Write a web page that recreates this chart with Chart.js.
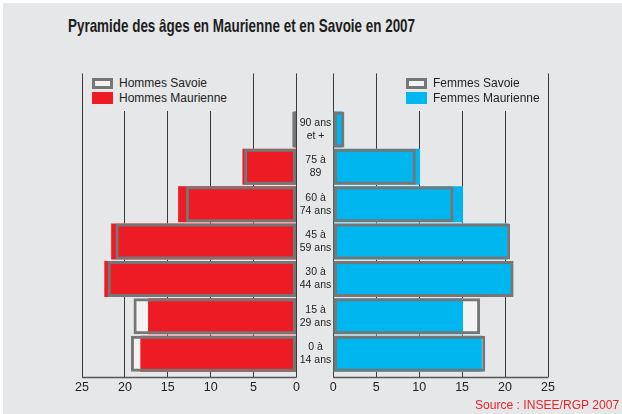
<!DOCTYPE html>
<html>
<head>
    <title>Pyramide des âges</title>
    <script src="https://cdn.jsdelivr.net/npm/chart.js"></script>
    <style>
        body { margin: 0; background: #fff; }
        #page { position: absolute; left: 3px; top: 3px; width: 619px; height: 411px; background: #e6e7e8; }
        .abs { position: absolute; }
        #title { left: 68px; top: 15px; font: bold 19px "Liberation Sans", Arial, sans-serif; color: #1e1e1e; white-space: nowrap; transform-origin: 0 0; }
        #source { left: 475px; top: 397px; font: 13px "Liberation Sans", Arial, sans-serif; color: #e8242b; white-space: nowrap; transform-origin: 0 0; }
        .legend { background: #e6e7e8; font: 12px "Liberation Sans", Arial, sans-serif; color: #222; }
        .legend div { position: relative; height: 15px; line-height: 15px; padding-left: 31px; white-space: nowrap; }
        .legend span { position: absolute; left: 4px; top: 2px; width: 21px; height: 11px; box-sizing: border-box; }
    </style>
</head>
<body>
<div id="page"></div>
<div id="title" class="abs">Pyramide des âges en Maurienne et en Savoie en 2007</div>
<canvas id="hommes" class="abs" style="left:0;top:0" width="300" height="414"></canvas>
<canvas id="femmes" class="abs" style="left:296px;top:0" width="326" height="414"></canvas>
<div id="legH" class="abs legend" style="left:88px;top:73px;width:152px;height:38px;padding-top:3px;box-sizing:border-box"></div>
<div id="legF" class="abs legend" style="left:402px;top:73px;width:142px;height:38px;padding-top:3px;box-sizing:border-box"></div>
<div id="source" class="abs">Source : INSEE/RGP 2007</div>
<script>
// tranches d'âge, du haut vers le bas
const ages = [['90 ans', 'et +'], ['75 à', '89'], ['60 à', '74 ans'], ['45 à', '59 ans'], ['30 à', '44 ans'], ['15 à', '29 ans'], ['0 à', '14 ans']];
// valeurs
const hommesMaurienne = [0.3, 6.3, 13.8, 21.6, 22.4, 17.3, 18.2];
const hommesSavoie    = [0.5, 6.1, 12.9, 21.1, 22.0, 19.0, 19.3];
const femmesMaurienne = [1.1, 10.1, 15.1, 20.3, 20.8, 15.1, 17.3];
const femmesSavoie    = [1.3, 9.6, 14.0, 20.6, 21.0, 17.1, 17.7];
const xTicks = [0, 5, 10, 15, 20, 25];

const ROUGE = '#ed1c24', BLEU = '#00b6ef', GRIS = '#767676', BLANC = '#f3f3f3';

// police étroite simulée
function squeeze(id, w) {
    const el = document.getElementById(id);
    el.style.transform = 'scaleX(' + (w / el.offsetWidth) + ')';
}
squeeze('title', 347);
squeeze('source', 144);

// une case vide en haut pour la légende
const labels = [''].concat(ages);
const pad = arr => [null].concat(arr);

function legend(id, names, color) {
    document.getElementById(id).innerHTML =
        '<div><span style="background:' + BLANC + ';border:3px solid ' + GRIS + '"></span>' + names[0] + '</div>' +
        '<div><span style="background:' + color + ';top:1px;height:12px"></span>' + names[1] + '</div>';
}
legend('legH', ['Hommes Savoie', 'Hommes Maurienne'], ROUGE);
legend('legF', ['Femmes Savoie', 'Femmes Maurienne'], BLEU);

const axisLine = {
    id: 'axisLine',
    afterDatasetsDraw(chart) {
        const a = chart.chartArea, ctx = chart.ctx;
        ctx.save();
        ctx.strokeStyle = '#555';
        ctx.lineWidth = 1.5;
        ctx.beginPath();
        ctx.moveTo(a.left, a.bottom + 5);
        ctx.lineTo(a.right, a.bottom + 5);
        ctx.stroke();
        ctx.restore();
    }
};

function makeChart(id, savoie, maurienne, color, left) {
    const bar = { grouped: false, barPercentage: 0.963, categoryPercentage: 1, borderSkipped: false };
    return new Chart(document.getElementById(id), {
        type: 'bar',
        data: {
            labels: labels,
            datasets: [
                Object.assign({ label: 'fond', data: pad(savoie), backgroundColor: BLANC, borderWidth: 0, order: 3 }, bar),
                Object.assign({ label: 'Maurienne', data: pad(maurienne), backgroundColor: color, borderWidth: 0, order: 2 }, bar),
                Object.assign({ label: 'Savoie', data: pad(savoie), backgroundColor: 'rgba(0,0,0,0)', borderColor: GRIS, borderWidth: 3, order: 1 }, bar)
            ]
        },
        options: {
            indexAxis: 'y',
            responsive: false,
            animation: false,
            layout: { padding: left ? { top: 73.4, left: 82, right: 3.5, bottom: 11.6 } : { top: 73.4, left: 0, right: 74, bottom: 11.6 } },
            plugins: { legend: { display: false }, tooltip: { enabled: false } },
            scales: {
                x: {
                    min: 0, max: 25, reverse: left,
                    afterBuildTicks: s => { s.ticks = xTicks.map(v => ({ value: v })); },
                    afterFit: s => { s.height = 30; },
                    grid: { color: '#3a3a3a', lineWidth: 1, drawTicks: true, tickLength: 5 },
                    border: { display: false },
                    ticks: { color: '#222', padding: 3, font: { family: '"Liberation Sans", Arial, sans-serif', size: 12.5 } }
                },
                y: {
                    display: !left,
                    afterFit: s => { s.width = left ? 0 : 37.3; },
                    grid: { display: false, drawTicks: false },
                    border: { display: false },
                    ticks: {
                        crossAlign: 'center', padding: 2, color: '#222',
                        font: { family: '"Liberation Sans", Arial, sans-serif', size: 10.5, lineHeight: 1.25 }
                    }
                }
            }
        },
        plugins: [axisLine]
    });
}

makeChart('hommes', hommesSavoie, hommesMaurienne, ROUGE, true);
makeChart('femmes', femmesSavoie, femmesMaurienne, BLEU, false);
</script>
</body>
</html>
